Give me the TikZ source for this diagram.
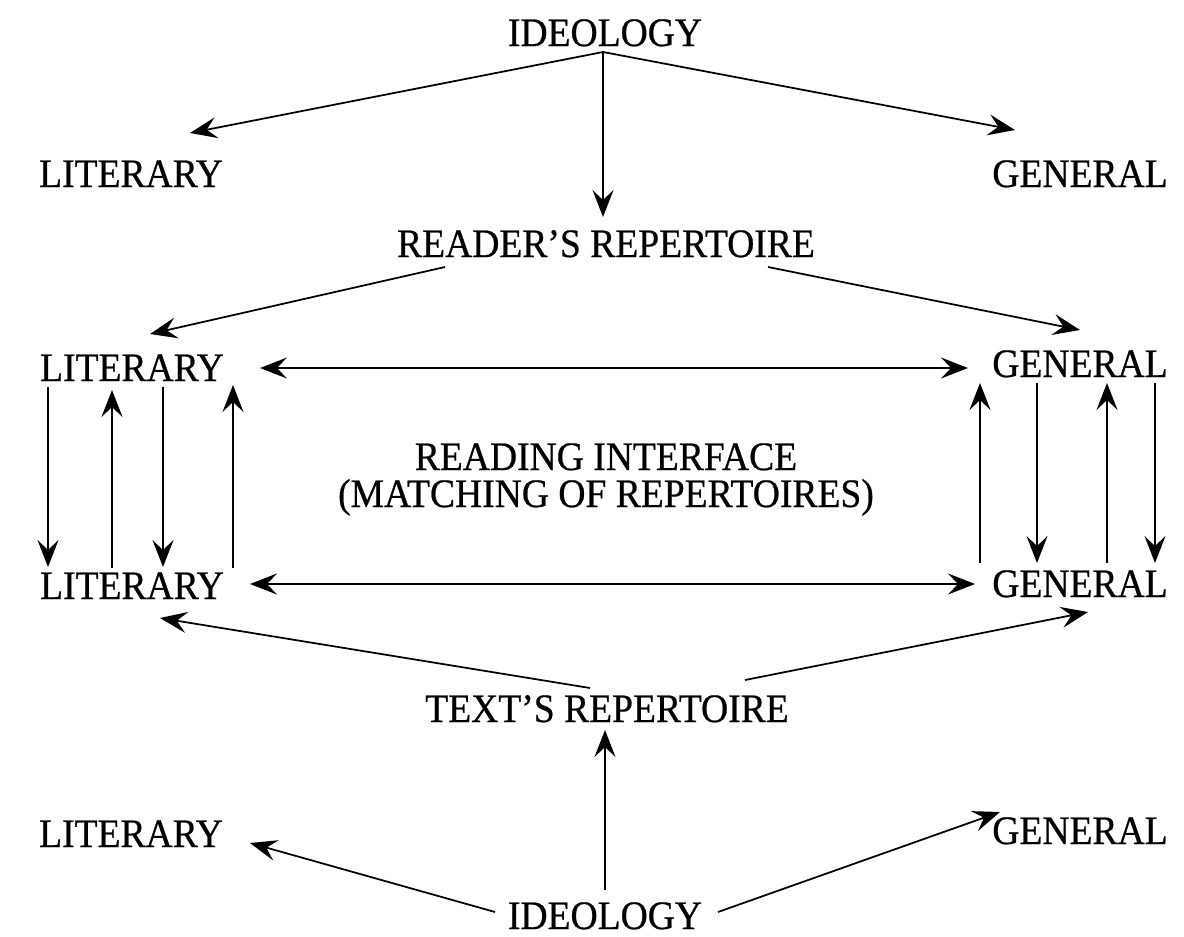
\documentclass[tikz,border=0pt]{standalone}
\usepackage{fontspec}
\setmainfont[FakeStretch=0.93,FakeBold=0.6]{Liberation Serif}
\usetikzlibrary{arrows.meta}
\tikzset{
  lbl/.style={inner sep=0pt, anchor=base, font=\fontsize{23}{23}\selectfont},
  tip/.tip={Stealth[length=0.54cm, width=0.42cm, inset=0.2cm]},
  arr/.style={line width=0.035cm, -tip},
  darr/.style={line width=0.035cm, tip-tip},
}
\begin{document}
\begin{tikzpicture}[x=0.02cm,y=-0.02cm]
\fill[white] (0,0) rectangle (1184,937);
\useasboundingbox (0,0) rectangle (1184,937);
% nodes
\node[lbl] (ideo1) at (605,46) {IDEOLOGY};
\node[lbl] (lit1) at (131,187) {LITERARY};
\node[lbl] (gen1) at (1080,187) {GENERAL};
\node[lbl] (rr) at (606,257) {READER'S REPERTOIRE};
\node[lbl] (lit2) at (132,381) {LITERARY};
\node[lbl] (gen2) at (1080,377) {GENERAL};
\node[lbl] (ri1) at (606,470) {READING INTERFACE};
\node[lbl] (ri2) at (606,507) {(MATCHING OF REPERTOIRES)};
\node[lbl] (lit3) at (132,599) {LITERARY};
\node[lbl] (gen3) at (1080,597) {GENERAL};
\node[lbl] (tr) at (607,722) {TEXT'S REPERTOIRE};
\node[lbl] (lit4) at (131,847) {LITERARY};
\node[lbl] (gen4) at (1080,844) {GENERAL};
\node[lbl] (ideo2) at (605,929) {IDEOLOGY};
% top ideology
\draw[arr] ([shift={(-2,6)}]ideo1.base) -- ([shift={(59,-54)}]lit1.base);
\draw[arr] ([shift={(-2,6)}]ideo1.base) -- ([shift={(-65,-57)}]gen1.base);
\draw[arr] ([shift={(-2,6)}]ideo1.base) -- ([shift={(-3,-40)}]rr.base);
% reader's repertoire
\draw[arr] ([shift={(-161,10)}]rr.base) -- ([shift={(18,-47)}]lit2.base);
\draw[arr] ([shift={(162,10)}]rr.base) -- ([shift={(0,-47)}]gen2.base);
% horizontals
\draw[darr] ([shift={(128,-13)}]lit2.base) -- ([shift={(-112,-9)}]gen2.base);
\draw[darr] ([shift={(118,-15)}]lit3.base) -- ([shift={(-105,-13)}]gen3.base);
% left verticals
\draw[arr] ([shift={(-84,6)}]lit2.base) -- ([shift={(-84,-32)}]lit3.base);
\draw[arr] ([shift={(-20,-31)}]lit3.base) -- ([shift={(-20,9)}]lit2.base);
\draw[arr] ([shift={(31,6)}]lit2.base) -- ([shift={(31,-32)}]lit3.base);
\draw[arr] ([shift={(101,-31)}]lit3.base) -- ([shift={(101,4)}]lit2.base);
% right verticals
\draw[arr] ([shift={(-100,-34)}]gen3.base) -- ([shift={(-100,6)}]gen2.base);
\draw[arr] ([shift={(-43,6)}]gen2.base) -- ([shift={(-43,-34)}]gen3.base);
\draw[arr] ([shift={(27,-34)}]gen3.base) -- ([shift={(27,6)}]gen2.base);
\draw[arr] ([shift={(75,6)}]gen2.base) -- ([shift={(75,-34)}]gen3.base);
% text's repertoire
\draw[arr] ([shift={(-17,-34)}]tr.base) -- ([shift={(28,19)}]lit3.base);
\draw[arr] ([shift={(138,-42)}]tr.base) -- ([shift={(8,15)}]gen3.base);
% bottom ideology
\draw[arr] ([shift={(0,-39)}]ideo2.base) -- ([shift={(-2,8)}]tr.base);
\draw[arr] ([shift={(-110,-17)}]ideo2.base) -- ([shift={(119,-4)}]lit4.base);
\draw[arr] ([shift={(113,-17)}]ideo2.base) -- ([shift={(-80,-32)}]gen4.base);
\end{tikzpicture}
\end{document}
